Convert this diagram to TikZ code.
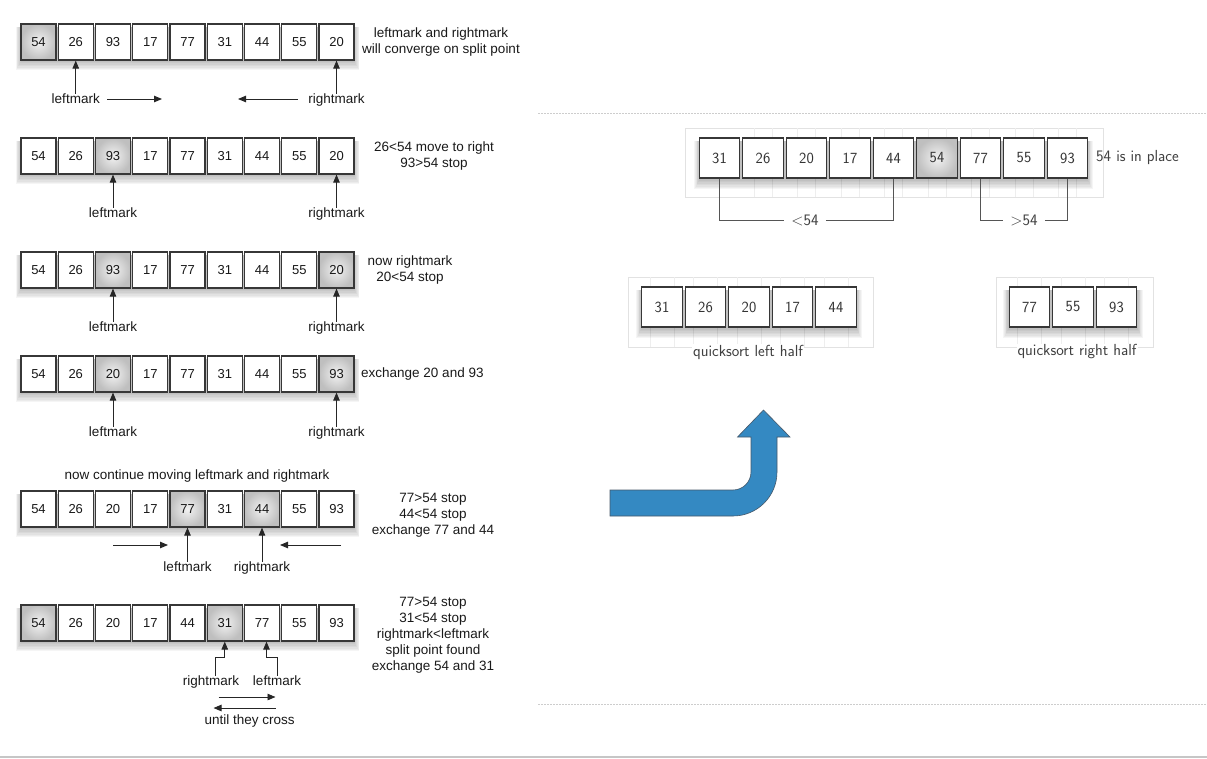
\documentclass[tikz,border=0pt]{standalone}
\usepackage{fontspec}
\setmainfont{Liberation Sans}
\usetikzlibrary{arrows.meta}
\definecolor{celldraw}{RGB}{55,55,55}
\definecolor{txt}{RGB}{25,25,25}
\definecolor{arrowblue}{RGB}{52,137,194}
\definecolor{arrowedge}{RGB}{70,88,105}
\definecolor{faint}{RGB}{226,226,226}
\definecolor{dotgray}{RGB}{205,205,205}
\definecolor{brk}{RGB}{85,85,85}
\newcommand{\softshadow}[4]{%
  \foreach \k in {0,...,6}{%
    \fill[black,opacity=0.04] ({#1-\k*0.8},{#2+3}) rectangle ({#3+\k*0.8},{#4+2+\k*1.4});}}
\newcommand{\leftrow}[3]{%
  \softshadow{20.5}{#2-18}{354.5}{#2+18}
  \foreach \v/\s [count=\i from 0] in {#3} {
    \node[\s] (#1-\i) at ({38.5+37.25*\i},#2) {\v};}}
\begin{document}
\begin{tikzpicture}[x=1pt,y=-1pt,
  cell/.style={draw=celldraw, line width=1.2pt, fill=white, minimum width=35pt,
    minimum height=36pt, inner sep=0pt, text=txt, font=\fontsize{13}{15}\selectfont},
  hot/.style={cell, shading=radial, inner color=gray!10, outer color=gray!50},
  rcell/.style={draw=celldraw, line width=1.4pt, fill=white, minimum width=40.5pt,
    minimum height=40pt, inner sep=0pt, text=black!80, font=\sffamily\fontsize{15.5}{17}\selectfont},
  rhot/.style={rcell, shading=radial, inner color=gray!10, outer color=gray!50},
  lab/.style={font=\fontsize{13.5}{16}\selectfont, text=txt, inner sep=0pt,
    text height=9.8pt, text depth=2.8pt},
  note/.style={font=\fontsize{13.5}{16}\selectfont, text=txt, inner sep=0pt, align=center},
  rlab/.style={font=\sffamily\fontsize{16}{18}\selectfont, text=black!75, inner sep=0pt},
  marker/.style={-{Triangle[length=8pt,width=6.5pt]}, line width=0.9pt, draw=black!85},
  faintbox/.style={draw=faint, line width=0.8pt},
  faintline/.style={draw=faint!60, line width=0.6pt},
  bracket/.style={draw=brk, line width=1pt},
  gapl/.style={rlab, fill=white, inner xsep=7pt, inner ysep=1pt},
  bluearrow/.style={fill=arrowblue, draw=arrowedge, line width=0.6pt}]
\useasboundingbox (0,0) rectangle (1207,758);

% ---------- separators ----------
\draw[dotgray, line width=1pt, dash pattern=on 1.5pt off 1.5pt] (538,113) -- (1207,113);
\draw[dotgray, line width=1pt, dash pattern=on 1.5pt off 1.5pt] (538,704) -- (1207,704);
\draw[gray!45, line width=1.5pt] (0,757) -- (1207,757);

% ---------- row 1 ----------
\leftrow{ra}{42}{54/hot,26/cell,93/cell,17/cell,77/cell,31/cell,44/cell,55/cell,20/cell}
\node[lab] (ra-l) at (75.75,100) {leftmark};
\node[lab] (ra-r) at (336.5,100) {rightmark};
\draw[marker] (ra-l.north) -- (ra-1.south);
\draw[marker] (ra-r.north) -- (ra-8.south);
\coordinate (ra-h1) at (107,99); \coordinate (ra-h2) at (162,99);
\coordinate (ra-h3) at (298,99); \coordinate (ra-h4) at (238,99);
\draw[marker] (ra-h1) -- (ra-h2);
\draw[marker] (ra-h3) -- (ra-h4);
\node[note] (ra-t) at (441,42) {leftmark and rightmark\\will converge on split point};

% ---------- row 2 ----------
\leftrow{rb}{156}{54/cell,26/cell,93/hot,17/cell,77/cell,31/cell,44/cell,55/cell,20/cell}
\node[lab] (rb-l) at (113,214) {leftmark};
\node[lab] (rb-r) at (336.5,214) {rightmark};
\draw[marker] (rb-l.north) -- (rb-2.south);
\draw[marker] (rb-r.north) -- (rb-8.south);
\node[note] (rb-t) at (434,156) {26<54 move to right\\93>54 stop};

% ---------- row 3 ----------
\leftrow{rc}{270}{54/cell,26/cell,93/hot,17/cell,77/cell,31/cell,44/cell,55/cell,20/hot}
\node[lab] (rc-l) at (113,328) {leftmark};
\node[lab] (rc-r) at (336.5,328) {rightmark};
\draw[marker] (rc-l.north) -- (rc-2.south);
\draw[marker] (rc-r.north) -- (rc-8.south);
\node[note] (rc-t) at (410,270) {now rightmark\\20<54 stop};

% ---------- row 4 ----------
\leftrow{rd}{374}{54/cell,26/cell,20/hot,17/cell,77/cell,31/cell,44/cell,55/cell,93/hot}
\node[lab] (rd-l) at (113,433) {leftmark};
\node[lab] (rd-r) at (336.5,433) {rightmark};
\draw[marker] (rd-l.north) -- (rd-2.south);
\draw[marker] (rd-r.north) -- (rd-8.south);
\node[note, anchor=west] (rd-t) at (361,374) {exchange 20 and 93};

% ---------- row 5 ----------
\node[note] (re-h) at (197,476) {now continue moving leftmark and rightmark};
\leftrow{re}{509}{54/cell,26/cell,20/cell,17/cell,77/hot,31/cell,44/hot,55/cell,93/cell}
\node[lab] (re-l) at (187.5,568) {leftmark};
\node[lab] (re-r) at (262,568) {rightmark};
\draw[marker] (re-l.north) -- (re-4.south);
\draw[marker] (re-r.north) -- (re-6.south);
\coordinate (re-h1) at (113,545); \coordinate (re-h2) at (168,545);
\coordinate (re-h3) at (341,545); \coordinate (re-h4) at (280,545);
\draw[marker] (re-h1) -- (re-h2);
\draw[marker] (re-h3) -- (re-h4);
\node[note] (re-t) at (433,515) {77>54 stop\\44<54 stop\\exchange 77 and 44};

% ---------- row 6 ----------
\leftrow{rf}{623}{54/hot,26/cell,20/cell,17/cell,44/cell,31/hot,77/cell,55/cell,93/cell}
\node[lab] (rf-r) at (211,682) {rightmark};
\node[lab] (rf-l) at (277,682) {leftmark};
\coordinate (rf-b1) at (215,657);
\coordinate (rf-b2) at (277,657);
\draw[marker] (rf-r.north -| rf-b1) -- (rf-b1) -| (rf-5.south);
\draw[marker] (rf-l.north) -- (rf-b2) -| ([xshift=4.5pt]rf-6.south);
\coordinate (rf-h1) at (218.7,697); \coordinate (rf-h2) at (275.5,697);
\coordinate (rf-h3) at (275.5,708); \coordinate (rf-h4) at (213.5,708);
\draw[marker] (rf-h1) -- (rf-h2);
\draw[marker] (rf-h3) -- (rf-h4);
\node[note] (rf-u) at (249.7,721) {until they cross};
\node[note] (rf-t) at (433,635) {77>54 stop\\31<54 stop\\rightmark<leftmark\\split point found\\exchange 54 and 31};

% ---------- right: partitioned list ----------
\draw[faintbox] (685,128) rectangle (1103,197);
\foreach \i in {1,...,8}{
  \draw[faintline] ({719.5+43.5*\i-9},128) -- ({719.5+43.5*\i-9},197);
  \draw[faintline] ({719.5+43.5*\i+9},128) -- ({719.5+43.5*\i+9},197);}
\softshadow{699}{138}{1088}{179}
\foreach \v/\s [count=\i from 0] in {31/rcell,26/rcell,20/rcell,17/rcell,44/rcell,54/rhot,77/rcell,55/rcell,93/rcell}
  \node[\s] (tp-\i) at ({719.5+43.5*\i},158) {\v};
\node[rlab, anchor=west] (tp-t) at (1096,158) {54 is in place};
\node[gapl] (lt) at (805,220) {<54};
\node[gapl] (gt) at (1024,220) {>54};
\draw[bracket] (tp-0.south) |- (lt.west);
\draw[bracket] (lt.east) -| (tp-4.south);
\draw[bracket] (tp-6.south) |- (gt.west);
\draw[bracket] (gt.east) -| (tp-8.south);

% ---------- right: left half ----------
\draw[faintbox] (628,277) rectangle (873,347);
\foreach \i in {0,...,4}{
  \draw[faintline] ({662+43.5*\i-12},277) -- ({662+43.5*\i-12},347);
  \draw[faintline] ({662+43.5*\i+12},277) -- ({662+43.5*\i+12},347);}
\softshadow{641}{287}{857}{328}
\foreach \v [count=\i from 0] in {31,26,20,17,44}
  \node[rcell] (lh-\i) at ({662+43.5*\i},307) {\v};
\node[rlab, fill=white, inner sep=1pt] (lh-t) at (748,352) {quicksort left half};

% ---------- right: right half ----------
\draw[faintbox] (996,277) rectangle (1153,347);
\foreach \i in {0,...,2}{
  \draw[faintline] ({1029.5+43.5*\i-12},277) -- ({1029.5+43.5*\i-12},347);
  \draw[faintline] ({1029.5+43.5*\i+12},277) -- ({1029.5+43.5*\i+12},347);}
\softshadow{1008}{287}{1138}{328}
\foreach \v [count=\i from 0] in {77,55,93}
  \node[rcell] (rh-\i) at ({1029.5+43.5*\i},307) {\v};
\node[rlab, fill=white, inner sep=1pt] (rh-t) at (1077,352) {quicksort right half};

% ---------- blue bent arrow ----------
\draw[bluearrow] (610,490) -- (733,490) .. controls (742.9,490) and (751,481.9) .. (751,472)
  -- (751,437) -- (737.5,437) -- (763.5,410) -- (790,437) -- (777,437) -- (777,472)
  .. controls (777,496.3) and (757.3,516) .. (733,516) -- (610,516) -- cycle;
\end{tikzpicture}
\end{document}
